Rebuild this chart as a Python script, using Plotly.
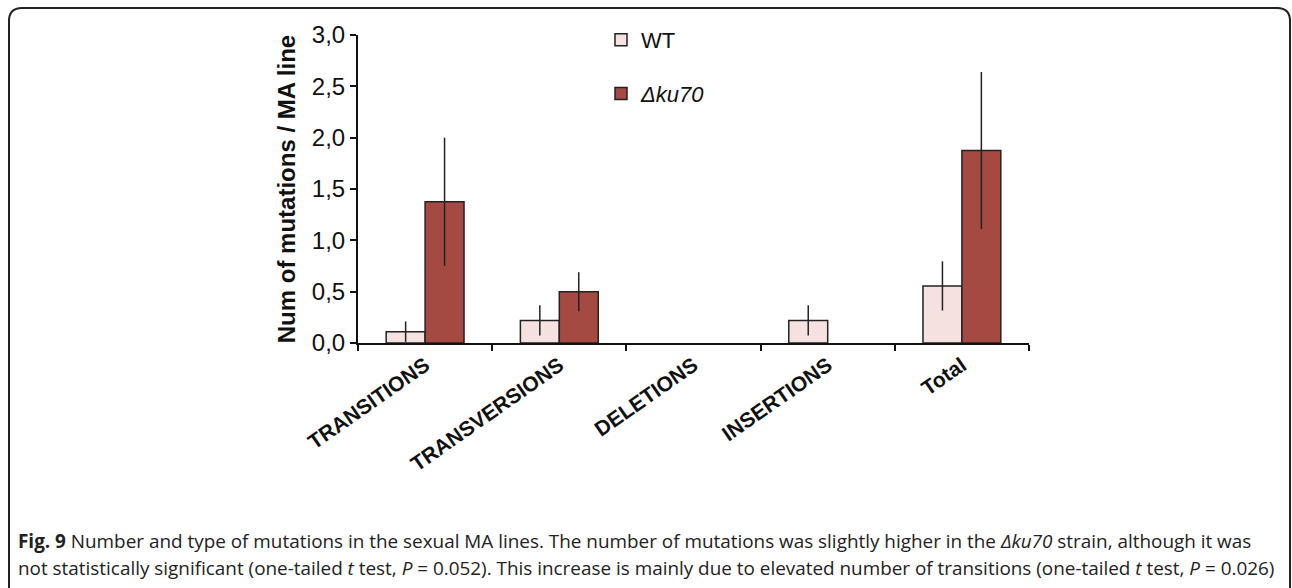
import plotly.graph_objects as go

categories = ["TRANSITIONS", "TRANSVERSIONS", "DELETIONS", "INSERTIONS", "Total"]
wt_values = [0.11, 0.22, 0.0, 0.22, 0.556]
wt_errors = [0.10, 0.147, 0.0, 0.147, 0.24]
ku_values = [1.375, 0.50, 0.0, 0.0, 1.875]
ku_errors = [0.625, 0.19, 0.0, 0.0, 0.765]
y_ticks = [0.0, 0.5, 1.0, 1.5, 2.0, 2.5, 3.0]

W, H = 1292, 588
L, R, T, B = 358, 1029, 35, 343


def px(x):
    return (x - L) / (R - L)


def py(y):
    return (B - y) / (B - T)


def outline(values):
    return [1.5 if v > 0 else 0 for v in values]


fig = go.Figure()
fig.add_trace(go.Bar(
    x=categories, y=wt_values, name="WT",
    marker=dict(color="#F5E2E0", line=dict(color="#222222", width=outline(wt_values))),
    error_y=dict(type="data", array=wt_errors, color="#222222", thickness=1.5, width=0),
    legendgroup="a",
))
fig.add_trace(go.Bar(
    x=categories, y=ku_values, name="<i>Δku70</i>",
    marker=dict(color="#A54A43", line=dict(color="#222222", width=outline(ku_values))),
    error_y=dict(type="data", array=ku_errors, color="#222222", thickness=1.5, width=0),
    legendgroup="b",
))

# frame with rounded corners
x0, y0, x1, y1, r = 9, 8, 1290, 600, 13
path = (
    f"M {px(x0)},{py(y0 + r)} Q {px(x0)},{py(y0)} {px(x0 + r)},{py(y0)} "
    f"L {px(x1 - r)},{py(y0)} Q {px(x1)},{py(y0)} {px(x1)},{py(y0 + r)} "
    f"L {px(x1)},{py(y1 - r)} Q {px(x1)},{py(y1)} {px(x1 - r)},{py(y1)} "
    f"L {px(x0 + r)},{py(y1)} Q {px(x0)},{py(y1)} {px(x0)},{py(y1 - r)} Z"
)

cap_font = dict(family="Open Sans", size=18.9, color="#222222")

fig.update_layout(
    width=W, height=H,
    margin=dict(l=L, r=W - R, t=T, b=H - B, pad=0),
    paper_bgcolor="white", plot_bgcolor="white",
    separators=",.",
    barmode="group", bargap=0.42, bargroupgap=0,
    font=dict(family="Liberation Sans, Arial", color="#111111"),
    showlegend=True,
    legend=dict(
        x=px(601), y=py(19), xanchor="left", yanchor="top",
        font=dict(size=22, family="Liberation Sans, Arial", color="#111111"),
        traceorder="grouped", tracegroupgap=22,
        bgcolor="rgba(0,0,0,0)", itemwidth=30,
    ),
    shapes=[dict(type="path", path=path, xref="paper", yref="paper",
                 line=dict(color="#222222", width=2), layer="below")],
    annotations=[
        dict(text="<b>Fig. 9</b> Number and type of mutations in the sexual MA lines. The number of mutations was slightly higher in the <i>Δku70</i> strain, although it was",
             xref="paper", yref="paper", x=px(16), y=py(541), xanchor="left", yanchor="middle",
             showarrow=False, font=cap_font),
        dict(text="not statistically significant (one-tailed <i>t</i> test, <i>P</i> = 0.052). This increase is mainly due to elevated number of transitions (one-tailed <i>t</i> test, <i>P</i> = 0.026)",
             xref="paper", yref="paper", x=px(16), y=py(568), xanchor="left", yanchor="middle",
             showarrow=False, font=cap_font),
    ],
)

fig.update_yaxes(
    range=[0, 3], tickvals=y_ticks, tickformat=".1f",
    showgrid=False, zeroline=False,
    showline=True, linecolor="#111111", linewidth=2,
    ticks="outside", ticklen=6, tickwidth=2, tickcolor="#111111",
    tickfont=dict(size=24, family="Liberation Sans, Arial", color="#111111"),
    title=dict(text="<b>Num of mutations / MA line</b>", standoff=9,
               font=dict(size=24, family="Liberation Sans, Arial", color="#111111")),
)
fig.update_xaxes(
    showgrid=False, showline=True, linecolor="#111111", linewidth=2,
    ticks="outside", ticklen=6, tickwidth=2, tickcolor="#111111", tickson="boundaries",
    tickangle=-35,
    tickfont=dict(size=21, family="Liberation Sans, Arial", color="#111111", weight="bold"),
)

fig.write_html("out.html")
